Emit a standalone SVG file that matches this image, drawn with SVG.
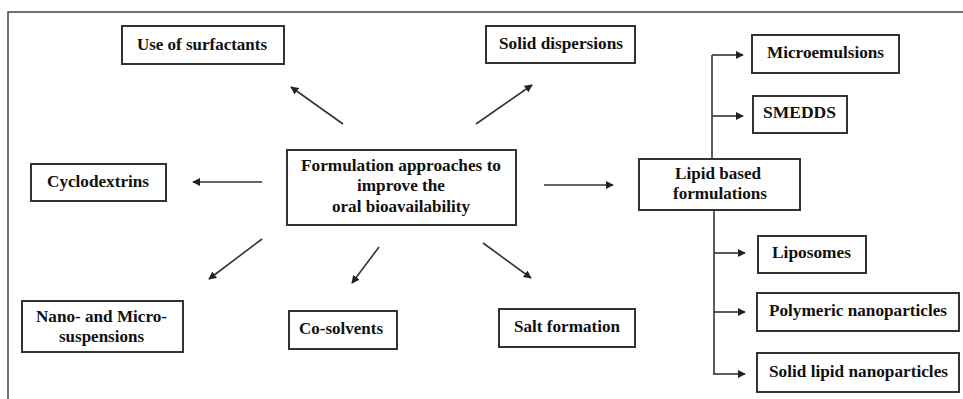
<svg xmlns="http://www.w3.org/2000/svg" width="963" height="399" viewBox="0 0 963 399">
<style>
.box{fill:#fff;stroke:#333;stroke-width:2}
.t{font-family:"Liberation Serif","DejaVu Serif",serif;font-weight:bold;font-size:17px;fill:#111;text-anchor:middle}
.c{stroke:#333;stroke-width:1.6;fill:none}
.a{stroke:#333;stroke-width:1.6;fill:none;marker-end:url(#ah)}
</style>
<defs>
<marker id="ah" viewBox="0 0 10 10" refX="9" refY="5" markerWidth="8" markerHeight="8" markerUnits="userSpaceOnUse" orient="auto">
<path d="M0,0 L10,5 L0,10 z" fill="#222"/>
</marker>
</defs>
<rect width="963" height="399" fill="#fff"/>
<path d="M8,399 L8,12 L963,12" stroke="#444" stroke-width="1.5" fill="none"/>
<g id="connectors">
<line class="a" x1="343" y1="124" x2="291" y2="87"/>
<line class="a" x1="476" y1="124" x2="532" y2="85"/>
<line class="a" x1="262" y1="182" x2="193" y2="182"/>
<line class="a" x1="544" y1="185" x2="613" y2="185"/>
<line class="a" x1="262" y1="239" x2="209" y2="279"/>
<line class="a" x1="379" y1="247" x2="352" y2="283"/>
<line class="a" x1="483" y1="243" x2="531" y2="278"/>
<line class="c" x1="712" y1="159" x2="712" y2="55"/>
<line class="a" x1="712" y1="55" x2="743" y2="55"/>
<line class="a" x1="712" y1="116" x2="743" y2="116"/>
<line class="c" x1="714" y1="210" x2="714" y2="374"/>
<line class="a" x1="714" y1="253" x2="745" y2="253"/>
<line class="a" x1="714" y1="312" x2="745" y2="312"/>
<line class="a" x1="713" y1="374" x2="745" y2="374"/>
</g>
<g id="center">
<rect class="box" x="287" y="150" width="229" height="75"/>
<text class="t" x="401" y="171" textLength="200" lengthAdjust="spacingAndGlyphs">Formulation approaches to</text>
<text class="t" x="401" y="191" textLength="88" lengthAdjust="spacingAndGlyphs">improve the</text>
<text class="t" x="401" y="212" textLength="138" lengthAdjust="spacingAndGlyphs">oral bioavailability</text>
</g>
<g id="surfactants">
<rect class="box" x="122" y="26" width="162" height="38"/>
<text class="t" x="202" y="50" textLength="130" lengthAdjust="spacingAndGlyphs">Use of surfactants</text>
</g>
<g id="solid-dispersions">
<rect class="box" x="486" y="26" width="149" height="37"/>
<text class="t" x="561" y="49" textLength="124" lengthAdjust="spacingAndGlyphs">Solid dispersions</text>
</g>
<g id="cyclodextrins">
<rect class="box" x="31" y="164" width="135" height="37"/>
<text class="t" x="98" y="187" textLength="102" lengthAdjust="spacingAndGlyphs">Cyclodextrins</text>
</g>
<g id="lipid">
<rect class="box" x="639" y="159" width="161" height="51"/>
<text class="t" x="718" y="179" textLength="86" lengthAdjust="spacingAndGlyphs">Lipid based</text>
<text class="t" x="720" y="199" textLength="94" lengthAdjust="spacingAndGlyphs">formulations</text>
</g>
<g id="microemulsions">
<rect class="box" x="752" y="35" width="147" height="38"/>
<text class="t" x="825.5" y="58" textLength="117" lengthAdjust="spacingAndGlyphs">Microemulsions</text>
</g>
<g id="smedds">
<rect class="box" x="753" y="96" width="94" height="37"/>
<text class="t" x="799.5" y="118" textLength="73" lengthAdjust="spacingAndGlyphs">SMEDDS</text>
</g>
<g id="liposomes">
<rect class="box" x="758" y="236" width="108" height="37"/>
<text class="t" x="811.5" y="258" textLength="79" lengthAdjust="spacingAndGlyphs">Liposomes</text>
</g>
<g id="polymeric">
<rect class="box" x="757" y="293" width="202" height="38"/>
<text class="t" x="858" y="316" textLength="178" lengthAdjust="spacingAndGlyphs">Polymeric nanoparticles</text>
</g>
<g id="sln">
<rect class="box" x="757" y="353" width="202" height="39"/>
<text class="t" x="858.5" y="377" textLength="179" lengthAdjust="spacingAndGlyphs">Solid lipid nanoparticles</text>
</g>
<g id="suspensions">
<rect class="box" x="22" y="301" width="161" height="51"/>
<text class="t" x="101.5" y="322" textLength="131" lengthAdjust="spacingAndGlyphs">Nano- and Micro-</text>
<text class="t" x="101.5" y="342" textLength="85" lengthAdjust="spacingAndGlyphs">suspensions</text>
</g>
<g id="cosolvents">
<rect class="box" x="289" y="311" width="108" height="38"/>
<text class="t" x="341" y="334" textLength="84" lengthAdjust="spacingAndGlyphs">Co-solvents</text>
</g>
<g id="salt">
<rect class="box" x="499" y="309" width="136" height="38"/>
<text class="t" x="567" y="332" textLength="106" lengthAdjust="spacingAndGlyphs">Salt formation</text>
</g>
</svg>
